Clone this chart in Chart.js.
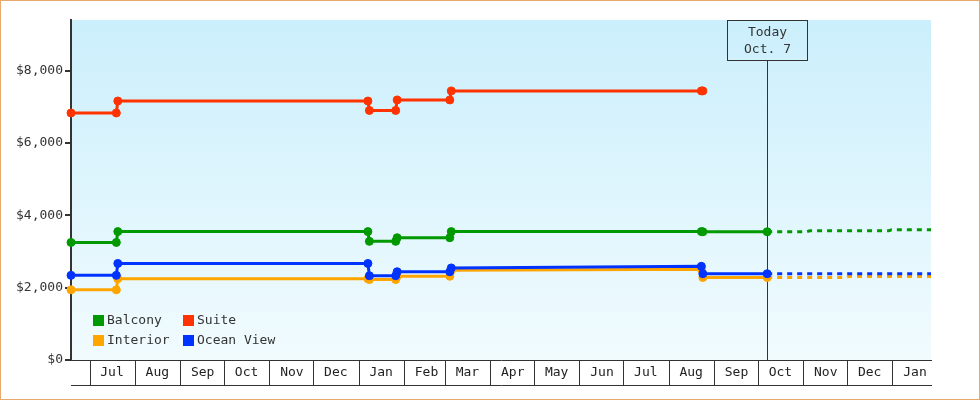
<!DOCTYPE html>
<html><head><meta charset="utf-8">
<script src="https://cdn.jsdelivr.net/npm/chart.js@4/dist/chart.umd.min.js"></script>
<style>
html,body{margin:0;padding:0;background:#fff;}
#wrap{position:relative;width:980px;height:400px;}
#c{position:absolute;left:0;top:0;}
#frame{position:absolute;left:0;top:0;width:980px;height:400px;box-sizing:border-box;border:1px solid #e9a96b;pointer-events:none;}
</style></head><body>
<div id="wrap"><canvas id="c" width="980" height="400"></canvas><div id="frame"></div></div>
<script>
// ---- data ----
const seriesNames = ['Balcony', 'Suite', 'Interior', 'Ocean View'];
const seriesColors = ['#009900', '#ff3300', '#ffa500', '#0033ff'];

const obsDates = ['2016-06-18','2016-07-19','2016-07-20','2017-01-07','2017-01-08','2017-01-26','2017-01-27','2017-03-04','2017-03-05','2017-08-23','2017-08-24','2017-10-07'];
const balcony   = [3250, 3250, 3550, 3550, 3280, 3280, 3380, 3380, 3550, 3550, 3545, 3545];
const suite     = [6830, 6830, 7160, 7160, 6900, 6900, 7190, 7190, 7440, 7440, 7440, null];
const interior  = [1940, 1940, 2245, 2245, 2225, 2225, 2315, 2315, 2480, 2510, 2280, 2280];
const oceanView = [2340, 2340, 2670, 2670, 2330, 2330, 2440, 2440, 2545, 2590, 2385, 2385];

const forecastDates = ['2017-10-07','2017-11-03','2017-11-05','2017-11-30','2017-12-02','2017-12-29','2017-12-31','2018-01-27'];
const balconyForecast   = [3545, 3545, 3570, 3570, 3570, 3570, 3600, 3600];
const interiorForecast  = [2280, 2280, 2280, 2280, 2310, 2310, 2310, 2310];
const oceanViewForecast = [2385, 2385, 2385, 2385, 2385, 2385, 2385, 2385];

const monthStarts = ['2016-07-01','2016-08-01','2016-09-01','2016-10-01','2016-11-01','2016-12-01','2017-01-01','2017-02-01','2017-03-01','2017-04-01','2017-05-01','2017-06-01','2017-07-01','2017-08-01','2017-09-01','2017-10-01','2017-11-01','2017-12-01','2018-01-01'];
const monthLabels = ['Jul','Aug','Sep','Oct','Nov','Dec','Jan','Feb','Mar','Apr','May','Jun','Jul','Aug','Sep','Oct','Nov','Dec','Jan'];
const yTicks = [0, 2000, 4000, 6000, 8000];
const yMax = 9400;
const axisStart = '2016-06-18';
const axisEnd = '2018-01-27';
const todayDate = '2017-10-07';
const todayLines = ['Today', 'Oct. 7'];

// ---- helpers ----
function dayNum(s){ const p = s.split('-').map(Number); return (Date.UTC(p[0], p[1]-1, p[2]) - Date.UTC(2016, 6, 1)) / 86400000; }
function pts(dates, vals){ return dates.map((d, i) => ({x: dayNum(d), y: vals[i]})); }
const FONT = "'DejaVu Sans Mono', 'Liberation Mono', monospace";

function solid(i, vals){
  return { label: seriesNames[i], data: pts(obsDates, vals), borderColor: seriesColors[i], backgroundColor: seriesColors[i],
    borderWidth: 3, pointRadius: 4, pointBorderWidth: 1, pointBackgroundColor: seriesColors[i], pointBorderColor: seriesColors[i],
    tension: 0, clip: false, spanGaps: false };
}
function dashed(i, vals){
  return { label: seriesNames[i] + ' forecast', data: pts(forecastDates, vals), borderColor: seriesColors[i],
    borderWidth: 3, borderDash: [5, 5], pointRadius: 0, tension: 0, clip: false, forecast: true };
}

const bgPlugin = { id: 'bg', beforeDraw(chart){
  const {ctx, chartArea: a} = chart;
  const g = ctx.createLinearGradient(0, a.top, 0, a.bottom);
  g.addColorStop(0, '#cbeffc'); g.addColorStop(1, '#f1fbfe');
  ctx.save(); ctx.fillStyle = g; ctx.fillRect(a.left, a.top, a.right - a.left, a.bottom - a.top); ctx.restore();
}};

const todayPlugin = { id: 'today', beforeDatasetsDraw(chart){
  const {ctx, chartArea: a} = chart;
  const x = Math.round(chart.scales.x.getPixelForValue(dayNum(todayDate))) + 0.5;
  const top = a.top + 0.5, w = 80, h = 40;
  ctx.save();
  ctx.strokeStyle = '#333'; ctx.lineWidth = 1;
  ctx.strokeRect(x - w/2, top, w, h);
  ctx.beginPath(); ctx.moveTo(x, top + h); ctx.lineTo(x, a.bottom); ctx.stroke();
  ctx.fillStyle = '#333'; ctx.font = '13px ' + FONT; ctx.textAlign = 'center'; ctx.textBaseline = 'middle';
  ctx.fillText(todayLines[0], x, a.top + 12.5);
  ctx.fillText(todayLines[1], x, a.top + 30);
  ctx.restore();
}};

const legendPlugin = { id: 'boxLegend', afterDatasetsDraw(chart){
  const {ctx, chartArea: a} = chart;
  ctx.save();
  ctx.font = '13px ' + FONT; ctx.textBaseline = 'middle'; ctx.textAlign = 'left';
  seriesNames.forEach((name, i) => {
    const col = i % 2, row = Math.floor(i / 2);
    const sx = a.left + 22 + col * 90;
    const sy = a.bottom - 45 + row * 20;
    ctx.fillStyle = seriesColors[i];
    ctx.fillRect(sx, sy, 11, 11);
    ctx.fillStyle = '#333';
    ctx.fillText(name, sx + 14, sy + 6);
  });
  ctx.restore();
}};

new Chart(document.getElementById('c'), {
  type: 'line',
  data: { datasets: [
    solid(3, oceanView), solid(2, interior), solid(0, balcony), solid(1, suite),
    dashed(3, oceanViewForecast), dashed(2, interiorForecast), dashed(0, balconyForecast)
  ]},
  options: {
    responsive: false, animation: false,
    layout: { padding: { top: 20, right: 49, bottom: 15, left: 0 } },
    plugins: { legend: { display: false }, tooltip: { enabled: false } },
    scales: {
      x: {
        type: 'linear', position: 'bottom', min: dayNum(axisStart), max: dayNum(axisEnd),
        afterBuildTicks(s){ s.ticks = monthStarts.map(d => ({ value: dayNum(d) })); },
        afterFit(s){ s.height = 25; },
        grid: { drawOnChartArea: false, drawTicks: true, tickLength: 25, color: '#333', lineWidth: 1 },
        border: { display: true, color: '#333', width: 1 },
        ticks: { autoSkip: false, maxRotation: 0, minRotation: 0, labelOffset: 22, padding: -20,
          color: '#222', font: { family: FONT, size: 13 },
          callback: (v, i) => monthLabels[i] }
      },
      xb: {
        type: 'linear', position: 'bottom', display: true,
        afterFit(s){ s.height = 0; },
        ticks: { display: false }, grid: { display: false, drawTicks: false },
        border: { display: true, color: '#333', width: 1 }
      },
      y: {
        type: 'linear', min: 0, max: yMax,
        afterBuildTicks(s){ s.ticks = yTicks.map(v => ({ value: v })); },
        afterFit(s){ s.width = 71; },
        grid: { drawOnChartArea: false, drawTicks: true, tickLength: 6, color: '#333', lineWidth: 2 },
        border: { display: true, color: '#333', width: 2 },
        ticks: { padding: 2, color: '#333', font: { family: FONT, size: 13 },
          callback: v => '$' + v.toLocaleString('en-US') }
      }
    }
  },
  plugins: [bgPlugin, todayPlugin, legendPlugin]
});
</script>
</body></html>
